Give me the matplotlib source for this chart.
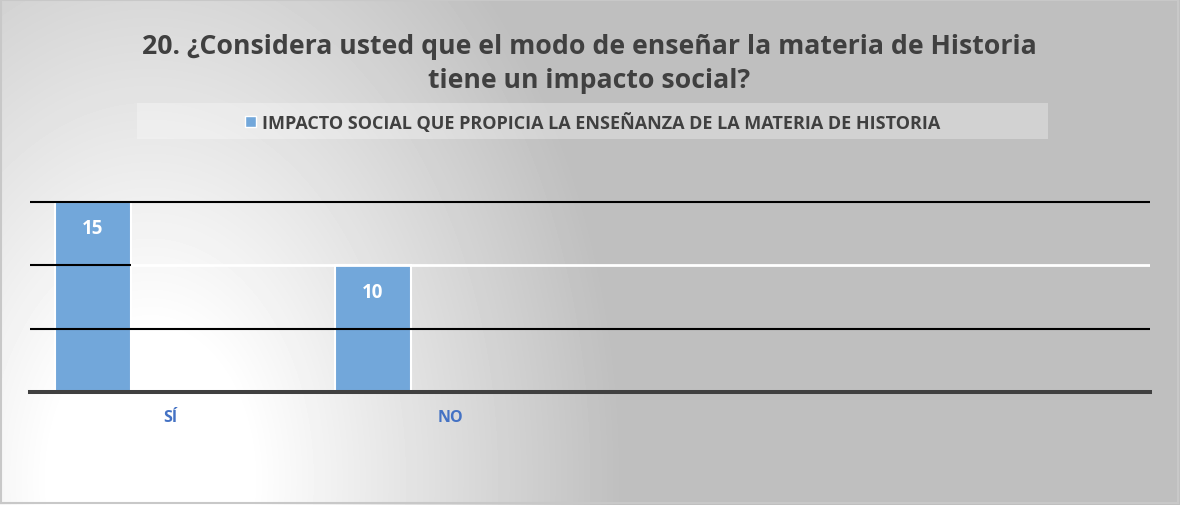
import numpy as np
import matplotlib.pyplot as plt
from matplotlib.patches import Rectangle
from matplotlib.transforms import blended_transform_factory

# data
categories = ['SÍ', 'NO']
values = [15, 10]
n_slots = 4
y_grid = [5, 10, 15]
title_lines = ['20. ¿Considera usted que el modo de enseñar la materia de Historia',
               'tiene un impacto social?']
series_name = 'IMPACTO SOCIAL QUE PROPICIA LA ENSEÑANZA DE LA MATERIA DE HISTORIA'

plt.rcParams['font.family'] = ['Open Sans', 'DejaVu Sans']

W, H = 1180, 506
fig = plt.figure(figsize=(W / 100, H / 100), dpi=100)

# background: soft grey gradient, white near the bottom left
yy, xx = np.mgrid[0:H, 0:W]
d = np.sqrt((xx - 150) ** 2 + ((yy - 480) / 1.475) ** 2)
shade = np.clip(255 - (d - 100) * 0.173, 191, 255) / 255
bg = fig.add_axes([0, 0, 1, 1], zorder=-10)
bg.imshow(shade, cmap='gray', vmin=0, vmax=1, aspect='auto', extent=[0, W, H, 0])
bg.set_xlim(0, W)
bg.set_ylim(H, 0)
bg.axis('off')
bg.add_patch(Rectangle((1, 1), W - 3, H - 3, fill=False, edgecolor='#c8c8c8', lw=1.5))

# legend strip
bg.add_patch(Rectangle((137, 104), 911, 36, facecolor='white', alpha=0.3, edgecolor='none'))
bg.add_patch(Rectangle((245, 117), 11, 11, facecolor='#72a7da', edgecolor='white', lw=1))
bg.text(262, 123, series_name, fontsize=13, fontweight='bold', color='#404040',
        ha='left', va='center')

# title
bg.text(589, 47, title_lines[0], fontsize=19.2, fontweight='bold', color='#404040',
        ha='center', va='center')
bg.text(589, 81, title_lines[1], fontsize=19.2, fontweight='bold', color='#404040',
        ha='center', va='center')

# plot area
ax = fig.add_axes([30 / W, (H - 393) / H, 1120 / W, (393 - 139.5) / H])
ax.patch.set_visible(False)
ax.set_xlim(-0.5, n_slots - 0.5)
ax.set_ylim(0, 20)

x = np.arange(len(categories))
bar_w = 0.27
bar_x = x - 0.275
ax.bar(bar_x, values, width=bar_w, color='#72a7da', edgecolor='white', lw=1.5, zorder=2)

# gridlines (the middle one switches to white after the first bar)
first_right = bar_x[0] + bar_w / 2
for g in y_grid:
    if g == 10:
        ax.hlines(g, -0.5, first_right, color='black', lw=1.5, zorder=3)
        ax.hlines(g, first_right, n_slots - 0.5, color='white', lw=2, zorder=3)
    else:
        ax.hlines(g, -0.5, n_slots - 0.5, color='black', lw=1.5, zorder=3)
ax.axhline(0, color='#404040', lw=2.9, zorder=4, clip_on=False)

for bx, v in zip(bar_x, values):
    ax.annotate(str(v), (bx, v), xytext=(0, -19), textcoords='offset points',
                ha='center', va='center', color='white', fontsize=13.5, fontweight='bold', zorder=5)

trans = blended_transform_factory(ax.transData, ax.transAxes)
for xi, c in zip(x, categories):
    ax.text(xi, -0.0986, c, transform=trans, ha='center', va='center',
            color='#4472c4', fontsize=11.5, fontweight='bold')

for s in ax.spines.values():
    s.set_visible(False)
ax.set_xticks([])
ax.set_yticks([])

fig.savefig('out.png', dpi=100)
